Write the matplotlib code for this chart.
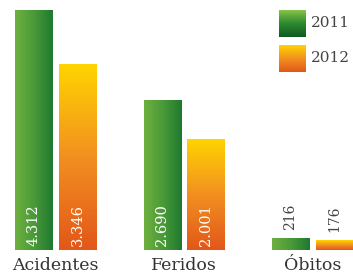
import matplotlib
matplotlib.use('Agg')
import matplotlib.pyplot as plt
import numpy as np
from matplotlib.colors import LinearSegmentedColormap

categorias = ['Acidentes', 'Feridos', 'Óbitos']
anos = ['2011', '2012']
v2011 = [4312, 2690, 216]
v2012 = [3346, 2001, 176]
rotulos2011 = ['4.312', '2.690', '216']
rotulos2012 = ['3.346', '2.001', '176']

verde = LinearSegmentedColormap.from_list('verde', ['#6eb040', '#4a9a38', '#1f7a30'])
laranja = LinearSegmentedColormap.from_list('laranja', ['#e2581a', '#f29020', '#ffd400'])
verde_leg = LinearSegmentedColormap.from_list('verde_leg', ['#0f5a22', '#2f8a30', '#8cc84a'])

fig = plt.figure(figsize=(3.53, 2.78), dpi=100)
ax = fig.add_axes([0, 0, 1, 1])
ax.set_facecolor('white')

# escala: 0 a 250 px do topo, 4312 a 10 px
u = 4312 / 240.0
ax.set_ylim(-28 * u, 250 * u)
ax.set_xlim(-0.432, 2.315)
ax.axis('off')

x = np.arange(len(categorias))
larg = 0.288
desl = 0.171

grad_h = np.linspace(0, 1, 64).reshape(1, -1)
grad_v = np.linspace(0, 1, 64).reshape(-1, 1)

barras1 = ax.bar(x - desl, v2011, larg, color='none', edgecolor='none')
barras2 = ax.bar(x + desl, v2012, larg, color='none', edgecolor='none')

for b in barras1:
    x0, y0 = b.get_x(), b.get_y()
    im = ax.imshow(grad_h, cmap=verde, aspect='auto',
                   extent=[x0, x0 + b.get_width(), y0, y0 + b.get_height()], origin='lower')
    im.set_clip_path(b)
for b in barras2:
    x0, y0 = b.get_x(), b.get_y()
    im = ax.imshow(grad_v, cmap=laranja, aspect='auto',
                   extent=[x0, x0 + b.get_width(), y0, y0 + b.get_height()], origin='lower')
    im.set_clip_path(b)

fonte = 'DejaVu Serif'
for i in range(len(categorias)):
    for xx, v, r in [(x[i] - desl, v2011[i], rotulos2011[i]), (x[i] + desl, v2012[i], rotulos2012[i])]:
        if v > 1000:
            ax.text(xx, 80, r, rotation=90, ha='center', va='bottom', color='white',
                    fontsize=10.5, family=fonte)
        else:
            ax.text(xx, v + 150, r, rotation=90, ha='center', va='bottom', color='#444444',
                    fontsize=10, family=fonte)
    ax.text(x[i], -270, categorias[i], ha='center', va='center', color='#333333',
            fontsize=12.5, family=fonte)

# legenda
for j, (ano, cm) in enumerate(zip(anos, [verde_leg, laranja])):
    top = 10 + j * 35
    lax = fig.add_axes([279 / 353, 1 - (top + 27) / 278, 27 / 353, 27 / 278])
    lax.imshow(grad_v, cmap=cm, aspect='auto', origin='lower')
    lax.axis('off')
    fig.text(311 / 353, 1 - (top + 13) / 278, ano, ha='left', va='center',
             color='#444444', fontsize=11, family=fonte)

fig.savefig('out.png', dpi=100)
